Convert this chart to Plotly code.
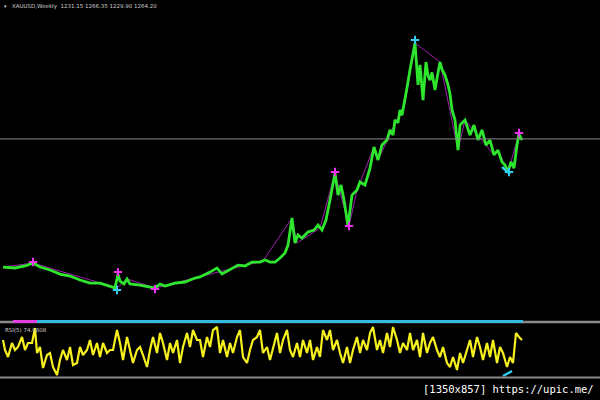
import plotly.graph_objects as go

# ---- price (weekly close path) ----
bars = [3, 15, 25, 33, 40, 50, 60, 70, 80, 90, 100, 110, 115, 118, 120, 124, 127, 130, 140, 150,
        155, 160, 165, 175, 185, 195, 200, 210, 217, 222, 230, 238, 245, 252, 260, 265, 270, 275,
        280, 285, 288, 292, 295, 298, 302, 308, 314, 318, 322, 326, 330, 335, 338, 341, 344, 348,
        352, 357, 360, 365, 370, 374, 378, 382, 387, 390, 393, 395, 398, 400, 402, 405, 407, 410, 415,
        418, 420, 423, 426, 428, 430, 432, 435, 437, 440, 442, 445, 448, 450, 452, 455, 458, 460, 465,
        470, 474, 478, 482, 486, 490, 494, 498, 502, 505, 508, 511, 514, 517, 519, 522]
close = [424, 418, 431, 450, 424, 405, 378, 365, 339, 319, 319, 300, 287, 378, 332, 313, 346, 313, 306, 293,
         287, 313, 300, 319, 326, 352, 359, 391, 418, 378, 405, 437, 431, 457, 457, 470, 457, 457,
         483, 516, 568, 746, 582, 634, 614, 654, 667, 700, 667, 732, 864, 1041, 896, 962, 864, 693,
         896, 929, 982, 962, 1073, 1211, 1126, 1224, 1257, 1323, 1290, 1388, 1370, 1454, 1420, 1519, 1600, 1716, 1893,
         1618, 1749, 1519, 1768, 1680, 1650, 1700, 1585, 1660, 1768, 1720, 1683, 1618, 1560, 1454, 1388, 1191, 1355, 1388,
         1290, 1355, 1257, 1323, 1224, 1257, 1159, 1191, 1113, 1093, 1047, 1113, 1073, 1224, 1296, 1257]

# zigzag swing points
zz_bars = [3, 33, 117, 127, 155, 263, 292, 297, 320, 335, 349, 357, 374, 378, 405, 415, 440, 458, 465, 494, 498,
           508, 519]
zz_vals = [424, 450, 287, 346, 287, 464, 746, 582, 680, 1041, 693, 929, 1211, 1126, 1500, 1893, 1768, 1191, 1388,
           1159, 1191, 1047, 1296]

# arrows
up_bars = [33, 118, 155, 335, 349, 519]
up_vals = [457, 391, 280, 1047, 693, 1303]
dn_bars = [117, 415, 509]
dn_vals = [274, 1913, 1047]

cyan_bars = [502, 510]
cyan_vals = [1080, 1034]

last_close = 1264.20

# ---- oscillator ----
osc_bars = [3, 5, 8, 12, 15, 18, 22, 25, 28, 32, 35, 37, 40, 43, 47, 50, 53, 57, 60, 63, 67, 70, 73, 77, 80,
            83, 87, 90, 93, 97, 100, 103, 107, 110, 113, 117, 120, 123, 127, 130, 133, 137, 140, 143, 147,
            150, 153, 157, 160, 163, 167, 170, 173, 177, 180, 183, 187, 190, 193, 197, 200, 203, 207, 210,
            213, 217, 220, 223, 227, 230, 233, 237, 240, 243, 247, 250, 253, 257, 260, 263, 267, 270, 273,
            277, 280, 283, 287, 290, 293, 297, 300, 303, 307, 310, 313, 317, 320, 323, 327, 330, 333, 337,
            340, 343, 347, 350, 353, 357, 360, 363, 367, 370, 373, 377, 380, 383, 387, 390, 393, 397, 400,
            403, 407, 410, 413, 417, 420, 423, 427, 430, 433, 437, 440, 443, 447, 450, 453, 457, 460, 463,
            467, 470, 473, 477, 480, 483, 487, 490, 493, 497, 500, 503, 507, 510, 513, 516, 519, 522]
osc = [76, 56, 42, 70, 56, 62, 82, 56, 70, 70, 100, 50, 62, 20, 46, 50, 22, 6, 36, 56, 36, 62, 26, 30, 62,
       46, 56, 76, 46, 70, 42, 70, 50, 56, 56, 96, 70, 36, 82, 56, 30, 56, 62, 46, 22,
       56, 82, 50, 90, 70, 36, 70, 50, 76, 30, 62, 90, 62, 96, 76, 76, 42, 82, 62,
       96, 102, 50, 76, 42, 70, 50, 82, 96, 42, 30, 56, 76, 82, 96, 50, 62, 36, 62,
       90, 50, 76, 96, 56, 42, 70, 42, 76, 50, 76, 36, 62, 42, 96, 76, 96, 56, 76,
       50, 30, 62, 30, 56, 82, 50, 76, 56, 90, 102, 56, 76, 50, 90, 62, 102, 76, 50,
       70, 56, 90, 56, 76, 42, 90, 50, 70, 82, 56, 42, 62, 30, 22, 42, 16, 50, 30,
       56, 76, 42, 82, 62, 36, 70, 42, 76, 30, 62, 50, 22, 42, 30, 90, 82, 76]

osc_cyan_bars = [503, 512]
osc_cyan_vals = [4, 14]

title_text = "XAUUSD,Weekly  1231.15 1266.35 1229.90 1264.20"
osc_label = "RSI(5) 74.0808"
watermark = "[1350x857] https://upic.me/"

fig = go.Figure()

fig.add_trace(go.Scatter(x=zz_bars, y=zz_vals, mode="lines",
                         line=dict(color="#a020b0", width=1), xaxis="x", yaxis="y"))
fig.add_trace(go.Scatter(x=bars, y=close, mode="lines",
                         line=dict(color="#2ee62e", width=2.8), xaxis="x", yaxis="y"))
fig.add_trace(go.Scatter(x=cyan_bars, y=cyan_vals, mode="lines",
                         line=dict(color="#33ccee", width=2.5), xaxis="x", yaxis="y"))
fig.add_trace(go.Scatter(x=up_bars, y=up_vals, mode="markers",
                         marker=dict(symbol="cross-thin", size=6, line=dict(color="#ee33ee", width=2)),
                         xaxis="x", yaxis="y"))
fig.add_trace(go.Scatter(x=dn_bars, y=dn_vals, mode="markers",
                         marker=dict(symbol="cross-thin", size=6, line=dict(color="#33ccee", width=2)),
                         xaxis="x", yaxis="y"))

fig.add_trace(go.Scatter(x=osc_bars, y=osc, mode="lines",
                         line=dict(color="#f5f01e", width=2.2), xaxis="x", yaxis="y2"))
fig.add_trace(go.Scatter(x=osc_cyan_bars, y=osc_cyan_vals, mode="lines",
                         line=dict(color="#33ccee", width=2.5), xaxis="x", yaxis="y2"))

shapes = [
    dict(type="line", xref="paper", yref="y", x0=0, x1=1, y0=last_close, y1=last_close,
         line=dict(color="#8a8a8a", width=1)),
    dict(type="line", xref="paper", yref="paper", x0=0, x1=1, y0=1 - 322/400, y1=1 - 322/400,
         line=dict(color="#8a8a8a", width=2.5)),
    dict(type="line", xref="x", yref="paper", x0=13, x1=37, y0=1 - 321.5/400, y1=1 - 321.5/400,
         line=dict(color="#e040e0", width=3)),
    dict(type="line", xref="x", yref="paper", x0=37, x1=523, y0=1 - 321.5/400, y1=1 - 321.5/400,
         line=dict(color="#33bbe0", width=3)),
    dict(type="line", xref="paper", yref="paper", x0=0, x1=1, y0=1 - 377.5/400, y1=1 - 377.5/400,
         line=dict(color="#8a8a8a", width=2)),
]

annotations = [
    dict(text=title_text, xref="paper", yref="paper", x=10/600, y=1 - 1/400, xanchor="left", yanchor="top",
         showarrow=False, font=dict(family="DejaVu Sans", size=5.5, color="#cfcfcf")),
    dict(text="▾", xref="paper", yref="paper", x=2/600, y=1 - 1/400, xanchor="left", yanchor="top",
         showarrow=False, font=dict(family="DejaVu Sans", size=5, color="#cfcfcf")),
    dict(text=osc_label, xref="paper", yref="paper", x=3/600, y=1 - 325/400, xanchor="left", yanchor="top",
         showarrow=False, font=dict(family="DejaVu Sans", size=5.5, color="#cfcfcf")),
    dict(text=watermark, xref="paper", yref="paper", x=596/600, y=1 - 389/400, xanchor="right", yanchor="middle",
         showarrow=False, font=dict(family="DejaVu Sans Mono", size=10.5, color="#ffffff")),
]

fig.update_layout(
    width=600, height=400, margin=dict(l=0, r=0, t=0, b=0),
    paper_bgcolor="#000000", plot_bgcolor="#000000", showlegend=False,
    xaxis=dict(range=[0, 600], visible=False),
    yaxis=dict(domain=[1 - 318/400, 1], range=[90, 2175], visible=False),
    yaxis2=dict(domain=[1 - 378/400, 1 - 323/400], range=[0, 110], visible=False),
    shapes=shapes, annotations=annotations,
)

fig.write_html("out.html", config={"displayModeBar": False},
               post_script="document.body.style.margin='0';document.body.style.background='#000';")
